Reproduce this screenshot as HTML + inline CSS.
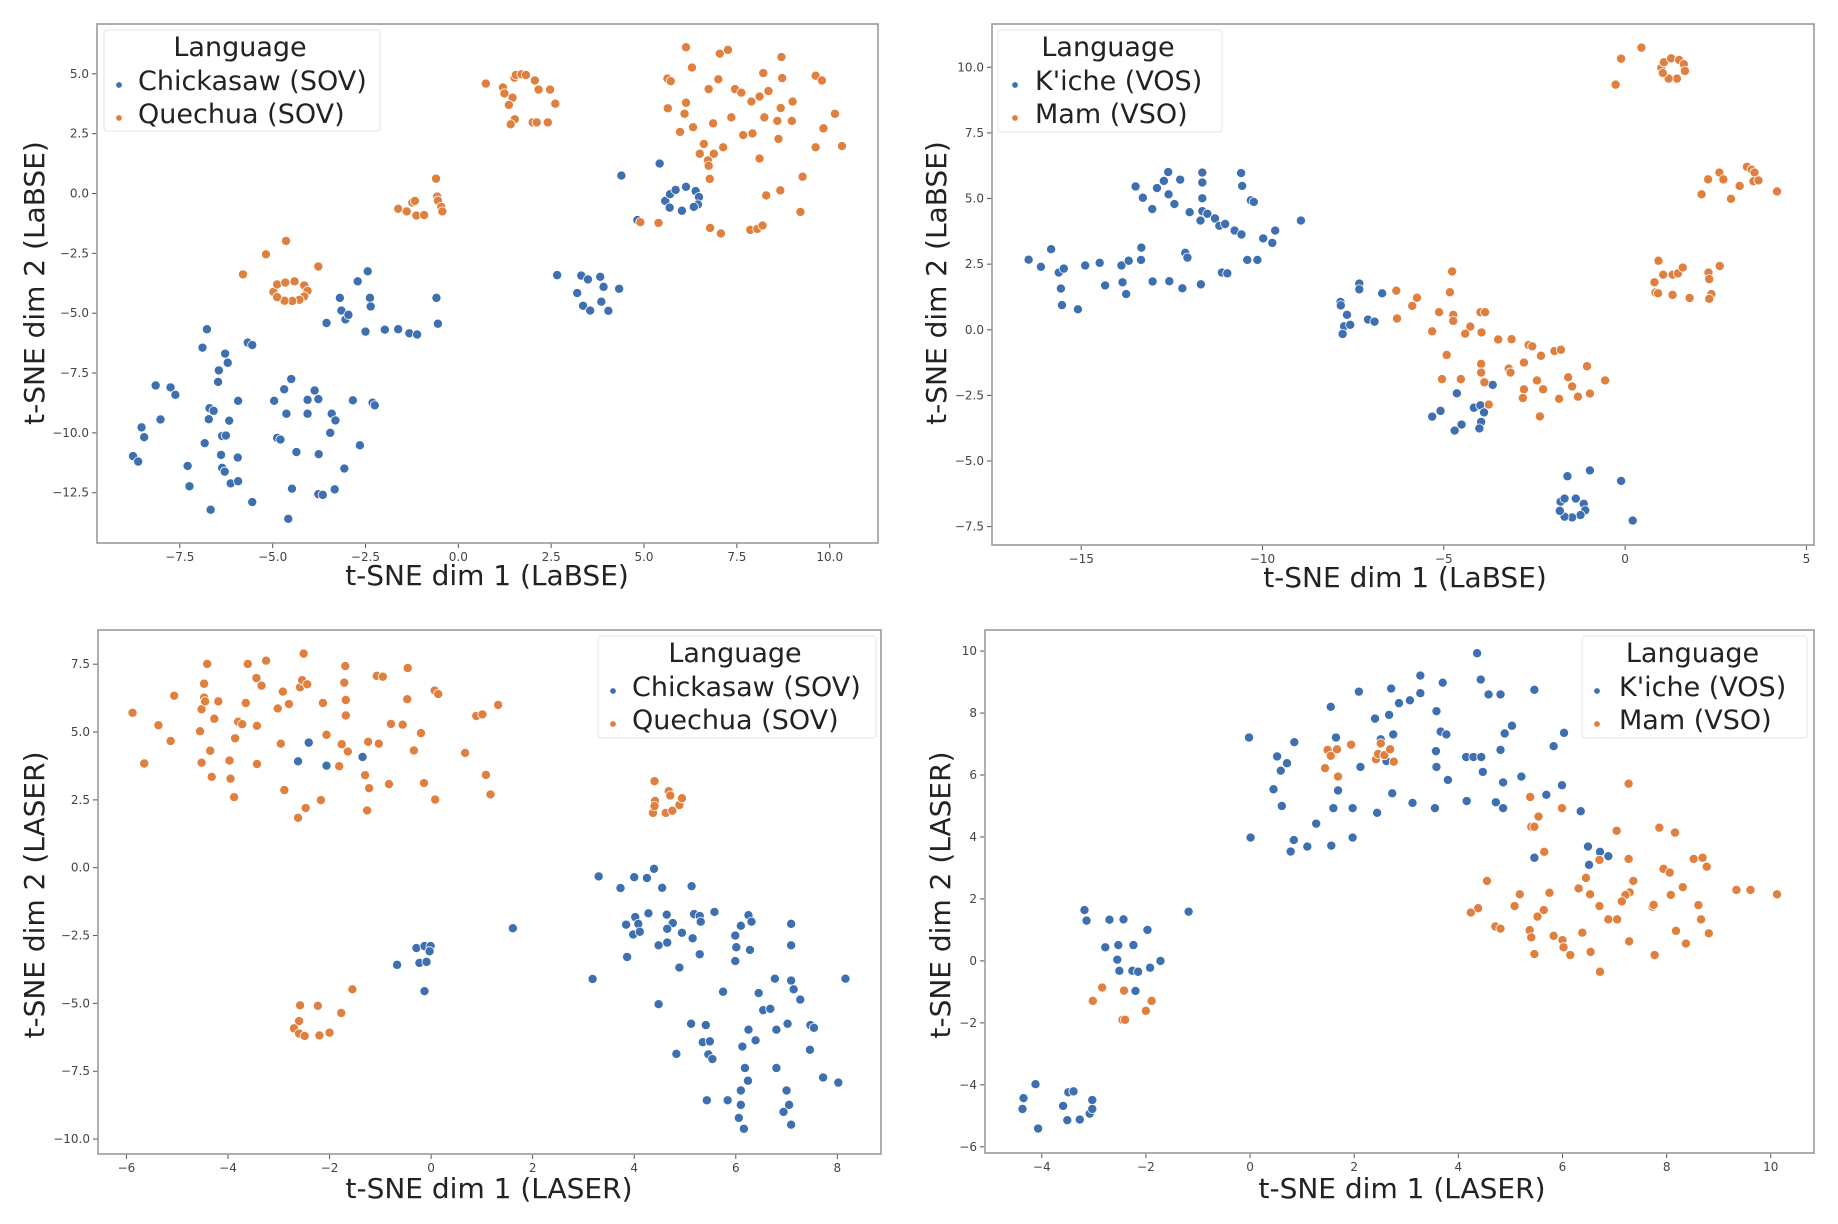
<!DOCTYPE html>
<html><head><meta charset="utf-8"><style>
html,body{margin:0;padding:0;background:#fff;}
svg{display:block;font-family:"DejaVu Sans","Liberation Sans",sans-serif;}
</style></head><body>
<svg id="fig" width="1838" height="1224" viewBox="0 0 1838 1224" xmlns="http://www.w3.org/2000/svg"></svg>
<script>
// ---- Panel 1: LaBSE Chickasaw / Quechua ----
const p1Blue = [[-8.76,-10.97],[-8.62,-11.2],[-8.53,-9.77],[-8.46,-10.18],[-8.15,-8.02],[-8.02,-9.44],[-7.75,-8.1],[-7.62,-8.41],[-7.29,-11.38],[-7.24,-12.23],[-6.89,-6.44],[-6.77,-5.67],[-6.83,-10.43],[-6.72,-9.43],[-6.70,-8.97],[-6.59,-9.08],[-6.67,-13.21],[-6.47,-7.87],[-6.45,-7.39],[-6.28,-6.69],[-6.21,-7.07],[-6.39,-10.92],[-6.36,-11.46],[-6.29,-11.62],[-6.36,-10.13],[-6.26,-10.11],[-6.17,-9.49],[-6.13,-12.11],[-5.93,-12.02],[-5.94,-11.03],[-5.93,-8.66],[-5.67,-6.23],[-5.55,-6.33],[-5.55,-12.89],[-4.96,-8.66],[-4.88,-10.21],[-4.79,-10.28],[-4.69,-8.18],[-4.63,-9.2],[-4.58,-13.59],[-4.50,-7.75],[-4.48,-12.33],[-4.36,-10.8],[-4.06,-8.62],[-4.06,-9.2],[-3.87,-8.23],[-3.77,-8.59],[-3.76,-10.89],[-3.77,-12.56],[-3.65,-12.59],[-3.45,-10.0],[-3.41,-9.2],[-3.31,-9.48],[-3.33,-12.36],[-3.07,-11.49],[-2.84,-8.64],[-2.65,-10.52],[-2.31,-8.74],[-2.25,-8.85],[-3.19,-4.36],[-3.15,-4.89],[-3.04,-5.26],[-2.96,-5.07],[-3.55,-5.41],[-2.71,-3.67],[-2.44,-3.25],[-2.38,-4.36],[-2.36,-4.72],[-2.50,-5.77],[-1.98,-5.69],[-1.62,-5.67],[-1.32,-5.84],[-1.11,-5.89],[-0.59,-4.36],[-0.55,-5.44],[2.66,-3.41],[3.31,-3.43],[3.49,-3.59],[3.82,-3.48],[3.91,-3.90],[4.33,-3.98],[3.20,-4.16],[3.36,-4.69],[3.55,-4.89],[3.85,-4.52],[4.04,-4.9],[4.39,0.75],[5.42,1.25],[4.82,-1.11],[5.57,-0.31],[5.70,-0.03],[5.85,0.15],[6.13,0.28],[6.39,0.10],[6.48,-0.15],[6.45,-0.46],[6.34,-0.56],[6.02,-0.72],[5.69,-0.59]];
const p1Orange = [[0.74,4.59],[1.20,4.43],[1.24,4.18],[1.51,4.84],[1.46,4.0],[1.36,3.7],[1.55,4.95],[1.70,4.98],[1.82,4.95],[2.06,4.72],[2.16,4.34],[2.47,4.34],[2.61,3.75],[1.52,3.10],[1.41,2.89],[2.0,2.97],[2.11,2.97],[2.41,2.97],[-1.62,-0.64],[-1.39,-0.75],[-1.24,-0.38],[-1.17,-0.31],[-1.13,-0.92],[-0.92,-0.90],[-0.60,0.62],[-0.57,-0.13],[-0.55,-0.30],[-0.46,-0.56],[-0.43,-0.75],[-5.80,-3.38],[-5.18,-2.54],[-4.64,-1.98],[-3.77,-3.05],[-4.98,-4.11],[-4.88,-3.80],[-4.66,-3.72],[-4.41,-3.67],[-4.15,-3.84],[-4.06,-4.07],[-4.15,-4.30],[-4.28,-4.44],[-4.47,-4.49],[-4.68,-4.48],[-4.88,-4.33],[6.13,6.11],[6.29,5.26],[5.63,4.80],[5.72,4.69],[5.64,3.56],[6.09,3.33],[6.13,3.79],[5.97,2.57],[6.32,2.77],[6.61,2.07],[6.50,1.66],[6.72,1.38],[6.74,1.16],[6.88,1.66],[7.13,1.93],[6.77,0.61],[6.86,2.93],[6.74,4.36],[7.0,4.77],[7.04,5.84],[7.26,6.0],[7.45,4.36],[7.62,4.21],[7.35,3.18],[7.67,2.44],[7.92,2.51],[7.89,3.84],[8.11,4.05],[8.35,4.28],[8.21,5.03],[8.70,5.70],[8.72,4.82],[8.24,3.18],[8.59,3.03],[8.68,3.57],[9.0,3.84],[8.98,3.03],[8.62,2.28],[8.11,1.46],[9.27,0.70],[8.29,-0.08],[8.67,0.13],[9.21,-0.77],[9.62,4.92],[9.79,4.72],[10.14,3.33],[9.83,2.72],[9.62,1.93],[10.33,1.98],[4.90,-1.20],[5.39,-1.23],[6.78,-1.44],[7.07,-1.67],[7.86,-1.52],[8.05,-1.48],[8.19,-1.34]];
const p1XTicks = [-7.5,-5.0,-2.5,0.0,2.5,5.0,7.5,10.0];
const p1YTicks = [5.0,2.5,0.0,-2.5,-5.0,-7.5,-10.0,-12.5];

// ---- Panel 2: LaBSE K'iche / Mam ----
const p2Blue = [[-16.45,2.67],[-16.11,2.40],[-15.83,3.07],[-15.62,2.18],[-15.48,2.33],[-15.56,1.57],[-15.53,0.94],[-15.09,0.78],[-14.89,2.45],[-14.49,2.55],[-14.34,1.69],[-13.89,2.45],[-13.69,2.63],[-13.86,1.81],[-13.76,1.36],[-13.34,3.13],[-13.35,2.66],[-13.03,1.84],[-12.57,1.85],[-12.21,1.58],[-12.13,2.93],[-12.07,2.75],[-11.70,1.73],[-11.12,2.18],[-10.97,2.15],[-10.42,2.66],[-10.14,2.66],[-13.50,5.46],[-13.30,5.03],[-13.04,4.60],[-12.91,5.40],[-12.72,5.67],[-12.60,6.01],[-12.59,5.16],[-12.43,4.79],[-12.27,5.72],[-12.01,4.48],[-11.66,5.99],[-11.66,5.61],[-11.66,5.01],[-11.66,4.52],[-11.71,4.16],[-11.52,4.42],[-11.31,4.24],[-11.19,3.96],[-11.03,4.03],[-10.77,3.78],[-10.58,3.63],[-10.59,5.97],[-10.56,5.48],[-10.32,4.93],[-10.24,4.87],[-9.98,3.48],[-9.73,3.31],[-9.65,3.78],[-8.94,4.16],[-7.33,1.76],[-7.33,1.54],[-6.70,1.39],[-7.85,1.06],[-7.84,0.93],[-7.67,0.57],[-7.75,0.13],[-7.58,0.19],[-7.79,-0.16],[-7.09,0.39],[-6.91,0.31],[-4.64,-2.42],[-3.65,-2.10],[-5.32,-3.31],[-5.09,-3.09],[-4.17,-2.97],[-3.99,-2.88],[-3.89,-3.15],[-3.97,-3.51],[-4.02,-3.76],[-4.51,-3.61],[-4.70,-3.84],[-1.59,-5.58],[-0.97,-5.36],[-0.11,-5.76],[0.21,-7.27],[-1.78,-6.55],[-1.67,-6.43],[-1.36,-6.43],[-1.14,-6.63],[-1.10,-6.88],[-1.23,-7.06],[-1.46,-7.15],[-1.67,-7.12],[-1.80,-6.90]];
const p2Orange = [[0.45,10.75],[-0.11,10.33],[-0.26,9.34],[1.0,9.98],[1.07,10.19],[1.27,10.34],[1.49,10.28],[1.62,10.12],[1.65,9.86],[1.43,9.57],[1.20,9.57],[1.04,9.78],[2.11,5.16],[2.29,5.73],[2.60,5.99],[2.71,5.73],[2.92,4.99],[3.16,5.48],[3.36,6.21],[3.49,6.10],[3.57,5.99],[3.54,5.66],[3.68,5.69],[4.19,5.27],[0.92,2.63],[1.05,2.10],[1.31,2.10],[1.46,2.15],[1.59,2.37],[0.81,1.81],[0.84,1.42],[0.91,1.39],[1.31,1.33],[1.78,1.21],[2.30,2.18],[2.32,1.93],[2.61,2.43],[2.38,1.36],[2.32,1.18],[-6.31,1.49],[-6.29,0.43],[-5.74,1.22],[-5.87,0.91],[-4.77,2.22],[-4.83,1.43],[-5.13,0.67],[-5.32,-0.06],[-4.74,0.57],[-4.74,0.34],[-4.27,0.12],[-4.41,-0.15],[-3.99,0.67],[-3.86,0.67],[-3.96,-0.10],[-3.50,-0.37],[-3.13,-0.36],[-2.66,-0.58],[-2.56,-0.63],[-1.95,-0.81],[-1.77,-0.76],[-4.92,-0.96],[-2.32,-0.99],[-3.97,-1.30],[-3.97,-1.63],[-2.79,-1.25],[-3.21,-1.48],[-3.16,-1.63],[-1.05,-1.39],[-5.05,-1.88],[-4.53,-1.88],[-3.88,-2.0],[-2.43,-1.93],[-2.26,-2.27],[-2.79,-2.27],[-2.82,-2.60],[-1.57,-1.81],[-1.46,-2.16],[-1.82,-2.63],[-1.30,-2.55],[-0.97,-2.43],[-0.55,-1.93],[-3.76,-2.85],[-2.35,-3.30]];
const p2XTicks = [-15,-10,-5,0,5];
const p2YTicks = [10.0,7.5,5.0,2.5,0.0,-2.5,-5.0,-7.5];

// ---- Panel 3: LASER Chickasaw / Quechua ----
const p3Blue = [[-2.62,3.92],[-2.41,4.61],[-2.06,3.76],[-1.35,4.08],[-0.67,-3.58],[-0.29,-2.96],[-0.13,-2.89],[-0.01,-2.89],[-0.03,-3.08],[-0.23,-3.51],[-0.09,-3.47],[-0.13,-4.55],[1.61,-2.23],[3.30,-0.32],[3.73,-0.75],[4.0,-0.35],[4.25,-0.38],[4.39,-0.04],[4.55,-0.74],[5.13,-0.68],[4.28,-1.68],[4.02,-1.82],[3.84,-2.10],[4.08,-2.07],[3.98,-2.46],[4.11,-2.36],[4.64,-1.73],[4.76,-2.04],[4.65,-2.25],[4.94,-2.40],[4.48,-2.86],[4.65,-2.76],[5.18,-1.71],[5.29,-1.78],[5.31,-1.99],[5.58,-1.63],[5.15,-2.60],[5.29,-3.19],[3.86,-3.29],[4.89,-3.68],[3.18,-4.10],[4.48,-5.03],[5.99,-2.50],[6.10,-2.14],[6.25,-1.75],[6.31,-1.99],[6.01,-2.93],[6.28,-3.03],[5.99,-3.44],[7.09,-2.07],[7.09,-2.86],[6.77,-4.09],[7.09,-4.16],[7.14,-4.48],[7.27,-4.86],[8.16,-4.09],[5.75,-4.57],[6.45,-4.62],[6.54,-5.25],[6.68,-5.20],[5.12,-5.75],[5.41,-5.80],[5.35,-6.43],[5.49,-6.40],[5.46,-6.88],[5.54,-7.05],[4.83,-6.86],[6.25,-5.97],[6.39,-6.36],[6.13,-6.59],[6.80,-5.97],[7.02,-5.75],[7.47,-5.80],[7.54,-5.90],[7.46,-6.71],[6.18,-7.38],[6.80,-7.38],[6.24,-7.85],[6.10,-8.21],[7.0,-8.21],[7.72,-7.73],[8.02,-7.92],[5.43,-8.57],[5.84,-8.57],[6.10,-8.74],[7.05,-8.74],[6.94,-9.0],[6.06,-9.22],[6.16,-9.62],[7.09,-9.47]];
const p3Orange = [[-5.88,5.71],[-5.65,3.84],[-5.37,5.25],[-5.13,4.67],[-5.06,6.34],[-4.55,5.03],[-4.52,5.84],[-4.52,3.87],[-4.47,6.78],[-4.47,6.27],[-4.45,6.13],[-4.41,7.51],[-4.35,4.31],[-4.32,3.35],[-4.27,5.49],[-4.19,6.13],[-3.97,3.95],[-3.95,3.28],[-3.88,2.60],[-3.86,4.77],[-3.80,5.38],[-3.72,5.29],[-3.65,6.07],[-3.61,7.51],[-3.44,6.99],[-3.43,5.23],[-3.43,3.82],[-3.34,6.71],[-3.25,7.63],[-3.02,5.87],[-2.96,4.57],[-2.92,6.49],[-2.89,2.86],[-2.80,6.03],[-2.62,1.84],[-2.58,6.65],[-2.54,6.91],[-2.51,7.89],[-2.47,2.20],[-2.44,6.76],[-2.17,2.49],[-2.13,6.07],[-2.06,4.90],[-1.81,3.74],[-1.76,4.55],[-1.69,7.43],[-1.71,6.82],[-1.68,6.18],[-1.68,5.61],[-1.64,4.28],[-1.30,3.41],[-1.26,2.11],[-1.24,4.64],[-1.22,2.93],[-1.07,7.07],[-0.95,7.04],[-1.03,4.57],[-0.83,3.08],[-0.79,5.30],[-0.56,5.27],[-0.47,6.21],[-0.46,7.36],[-0.34,4.32],[-0.20,4.96],[-0.14,3.12],[0.07,6.53],[0.14,6.40],[0.08,2.51],[0.67,4.23],[0.89,5.59],[1.01,5.65],[1.08,3.42],[1.17,2.70],[1.32,6.0],[4.40,3.19],[4.41,2.46],[4.37,2.02],[4.40,2.27],[4.62,2.02],[4.75,2.10],[4.68,2.82],[4.71,2.66],[4.89,2.31],[4.94,2.56],[-1.55,-4.48],[-1.77,-5.35],[-2.23,-5.09],[-2.58,-5.07],[-2.60,-5.65],[-2.70,-5.92],[-2.60,-6.11],[-2.49,-6.20],[-2.20,-6.18],[-2.0,-6.08]];
const p3XTicks = [-6,-4,-2,0,2,4,6,8];
const p3YTicks = [7.5,5.0,2.5,0.0,-2.5,-5.0,-7.5,-10.0];

// ---- Panel 4: LASER K'iche / Mam ----
const p4Blue = [[-4.12,-3.98],[-4.35,-4.43],[-4.37,-4.78],[-4.07,-5.41],[-3.59,-4.68],[-3.51,-5.14],[-3.49,-4.24],[-3.39,-4.21],[-3.27,-5.12],[-3.08,-4.93],[-3.03,-4.78],[-3.03,-4.49],[-3.18,1.64],[-3.14,1.30],[-2.70,1.33],[-2.43,1.34],[-1.97,1.0],[-1.18,1.59],[-2.78,0.44],[-2.53,0.51],[-2.24,0.51],[-2.55,0.04],[-2.51,-0.32],[-2.26,-0.32],[-2.15,-0.35],[-1.92,-0.22],[-1.72,0.0],[-2.20,-0.97],[-0.02,7.21],[0.01,3.98],[0.45,5.54],[0.52,6.60],[0.59,6.14],[0.61,5.0],[0.71,6.38],[0.78,3.53],[0.84,3.90],[0.85,7.06],[1.10,3.69],[1.27,4.43],[1.55,8.20],[1.56,3.72],[1.60,4.93],[1.65,7.21],[1.69,5.50],[1.97,4.93],[1.97,3.98],[2.09,8.69],[2.12,6.26],[2.40,7.82],[2.44,4.78],[2.51,7.15],[2.62,6.45],[2.67,7.94],[2.71,8.79],[2.75,7.31],[2.73,5.41],[2.86,8.32],[3.07,8.41],[3.12,5.10],[3.27,8.64],[3.27,9.21],[3.55,4.93],[3.57,6.77],[3.58,8.06],[3.58,6.26],[3.66,7.40],[3.70,8.98],[3.77,7.31],[3.80,5.84],[4.16,5.16],[4.15,6.58],[4.29,6.58],[4.44,6.58],[4.36,9.93],[4.43,9.08],[4.47,6.10],[4.58,8.60],[4.72,5.12],[4.81,6.81],[4.81,8.60],[4.86,4.93],[4.86,5.76],[4.89,7.34],[5.03,7.59],[5.21,5.95],[5.46,8.75],[5.69,5.36],[5.83,6.93],[5.99,5.67],[6.03,7.36],[6.35,4.83],[5.46,3.33],[6.49,3.69],[6.51,3.10],[6.72,3.52],[6.88,3.38]];
const p4Orange = [[1.44,6.22],[1.49,6.81],[1.55,6.62],[1.67,6.83],[1.69,5.95],[1.94,6.98],[2.42,6.51],[2.51,7.02],[2.46,6.68],[2.58,6.64],[2.69,6.83],[2.76,6.43],[-2.84,-0.86],[-3.02,-1.29],[-2.42,-0.96],[-2.45,-1.90],[-2.40,-1.90],[-2.0,-1.61],[-1.89,-1.29],[7.27,5.72],[5.38,5.29],[5.54,4.66],[5.40,4.33],[5.46,4.33],[5.65,3.52],[5.99,4.93],[7.04,4.20],[7.86,4.30],[8.16,4.14],[6.71,3.26],[7.27,3.29],[8.52,3.29],[8.69,3.33],[8.77,3.04],[7.94,2.97],[8.06,2.85],[6.45,2.68],[7.36,2.58],[4.55,2.58],[6.31,2.34],[6.53,2.15],[7.29,2.21],[7.21,2.13],[7.14,1.92],[8.31,2.38],[8.08,2.13],[9.34,2.29],[9.61,2.29],[10.12,2.15],[5.18,2.15],[5.08,1.77],[5.75,2.20],[5.64,1.64],[5.52,1.43],[4.38,1.70],[4.24,1.56],[4.71,1.11],[4.81,1.04],[6.71,1.77],[7.73,1.75],[7.75,1.81],[8.61,1.80],[6.88,1.34],[7.05,1.34],[8.66,1.34],[5.37,0.99],[5.40,0.76],[5.83,0.81],[6.0,0.67],[6.02,0.44],[6.38,0.91],[8.18,0.97],[8.81,0.89],[7.28,0.63],[8.37,0.56],[5.46,0.22],[6.15,0.19],[6.54,0.29],[7.77,0.19],[6.72,-0.35]];
const p4XTicks = [-4,-2,0,2,4,6,8,10];
const p4YTicks = [10,8,6,4,2,0,-2,-4,-6];

const BLUE = '#3e6fb0', ORANGE = '#e0803f';
const NS = 'http://www.w3.org/2000/svg';
const svg = document.getElementById('fig');

function mk(tag, attrs, parent) {
  const e = document.createElementNS(NS, tag);
  for (const k in attrs) e.setAttribute(k, attrs[k]);
  (parent || svg).appendChild(e);
  return e;
}
function fmt(v, dec) { return (v < 0 ? '\u2212' : '') + Math.abs(v).toFixed(dec); }

const panels = [
  {id:'labse-sov', L:97, R:878, T:24, B:543, xd:[-9.73,11.3], yd:[-14.6,7.08], blue:p1Blue, orange:p1Orange, xt:p1XTicks, yt:p1YTicks, dec:1,
   xl:'t-SNE dim 1 (LaBSE)', yl:'t-SNE dim 2 (LaBSE)', xlx:487, xly:585, ylx:44, yly:283,
   leg:{x:104,y:30,w:276,h:101,tx:138,mx:119,title:'Language',a:'Chickasaw (SOV)',b:'Quechua (SOV)'}},
  {id:'labse-vos', L:992, R:1814, T:24, B:545, xd:[-17.46,5.21], yd:[-8.2,11.65], blue:p2Blue, orange:p2Orange, xt:p2XTicks, yt:p2YTicks, dec:1, xdec:0,
   xl:'t-SNE dim 1 (LaBSE)', yl:'t-SNE dim 2 (LaBSE)', xlx:1405, xly:587, ylx:946, yly:283,
   leg:{x:998,y:30,w:224,h:102,tx:1035,mx:1015,title:'Language',a:"K'iche (VOS)",b:'Mam (VSO)'}},
  {id:'laser-sov', L:98, R:881, T:630, B:1154, xd:[-6.56,8.86], yd:[-10.55,8.76], blue:p3Blue, orange:p3Orange, xt:p3XTicks, yt:p3YTicks, dec:1, xdec:0,
   xl:'t-SNE dim 1 (LASER)', yl:'t-SNE dim 2 (LASER)', xlx:489, xly:1198, ylx:44, yly:895,
   leg:{x:598,y:636,w:278,h:102,tx:632,mx:613,title:'Language',a:'Chickasaw (SOV)',b:'Quechua (SOV)'}},
  {id:'laser-vos', L:985, R:1814, T:630, B:1153, xd:[-5.09,10.83], yd:[-6.2,10.68], blue:p4Blue, orange:p4Orange, xt:p4XTicks, yt:p4YTicks, dec:0, xdec:0,
   xl:'t-SNE dim 1 (LASER)', yl:'t-SNE dim 2 (LASER)', xlx:1402, xly:1198, ylx:950, yly:895,
   leg:{x:1582,y:636,w:225,h:102,tx:1619,mx:1597,title:'Language',a:"K'iche (VOS)",b:'Mam (VSO)'}}
];

panels.forEach(p => {
  const g = mk('g', {});
  
  
  const sx = v => p.L + (v - p.xd[0]) / (p.xd[1] - p.xd[0]) * (p.R - p.L);
  const sy = v => p.B - (v - p.yd[0]) / (p.yd[1] - p.yd[0]) * (p.B - p.T);
  const xdec = (p.xdec !== undefined) ? p.xdec : p.dec;

  const xa = mk('g', {}, g);
  
  
  p.xt.forEach(v => {
    const x = sx(v);
    mk('line', {x1:x, x2:x, y1:p.B, y2:p.B+5, stroke:'#555', 'stroke-width':1}, xa);
    const t = mk('text', {x:x, y:p.B+18, 'text-anchor':'middle', 'font-size':12, fill:'#444'}, xa);
    
    
    t.textContent = fmt(v, xdec);
  });
  const ya = mk('g', {}, g);
  
  
  p.yt.forEach(v => {
    const y = sy(v);
    mk('line', {x1:p.L-5, x2:p.L, y1:y, y2:y, stroke:'#555', 'stroke-width':1}, ya);
    const t = mk('text', {x:p.L-8, y:y+4, 'text-anchor':'end', 'font-size':12, fill:'#444'}, ya);
    
    
    t.textContent = fmt(v, p.dec);
  });

  const drawSeries = (arr, col, name) => {
    const sg = mk('g', {}, g);
    
    
    arr.forEach(d => {
      const c = mk('circle', {cx:sx(d[0]), cy:sy(d[1]), r:4.6, fill:col, stroke:'#fff', 'stroke-width':0.8}, sg);
      
      
    });
  };
  drawSeries(p.blue, BLUE, 'series-blue');
  drawSeries(p.orange, ORANGE, 'series-orange');

  const fr = mk('rect', {x:p.L, y:p.T, width:p.R-p.L, height:p.B-p.T, fill:'none', stroke:'#9a9a9a', 'stroke-width':1.6}, g);
  
  

  const xl = mk('text', {x:p.xlx, y:p.xly, 'text-anchor':'middle', 'font-size':28, fill:'#222'}, g);
  
  
  xl.textContent = p.xl;
  const yl = mk('text', {x:0, y:0, 'text-anchor':'middle', 'font-size':28, fill:'#222', transform:'translate('+p.ylx+','+p.yly+') rotate(-90)'}, g);
  
  
  yl.textContent = p.yl;

  const l = p.leg;
  const lg = mk('g', {}, g);
  
  
  mk('rect', {x:l.x, y:l.y, width:l.w, height:l.h, rx:3, fill:'#fff', 'fill-opacity':0.85, stroke:'#e4e4e4', 'stroke-width':1}, lg);
  const lt = mk('text', {x:l.x + l.w/2 - 2, y:l.y+26, 'text-anchor':'middle', 'font-size':27, fill:'#222'}, lg);
  
  
  lt.textContent = l.title;
  [[l.a, BLUE, 51], [l.b, ORANGE, 84]].forEach(e => {
    const eg = mk('g', {}, lg);
    
    
    mk('circle', {cx:l.mx, cy:l.y+e[2]+4, r:3.2, fill:e[1], stroke:'#fff', 'stroke-width':0.6}, eg);
    const t = mk('text', {x:l.tx, y:l.y+e[2]+9, 'font-size':27, fill:'#222'}, eg);
    t.textContent = e[0];
  });
});
</script>
</body></html>
